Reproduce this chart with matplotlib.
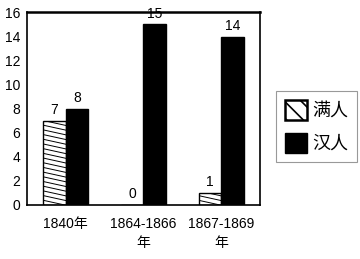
import numpy as np
import matplotlib
matplotlib.use("Agg")
import matplotlib.pyplot as plt
from matplotlib.patches import Patch

plt.rcParams['font.family'] = ['Liberation Sans', 'Noto Sans CJK SC', 'DejaVu Sans']
plt.rcParams['hatch.linewidth'] = 1.2

# data
periods = ["1840年", "1864-1866\n年", "1867-1869\n年"]
manchu = [7, 0, 1]
han = [8, 15, 14]
series_names = ["满人", "汉人"]

fig = plt.figure(figsize=(3.6, 2.59), dpi=100)
ax = fig.add_axes([0.075, 0.2085, 0.647, 0.7435])

x = np.arange(len(periods))
w = 0.29

bars_m = ax.bar(x - w / 2, manchu, w, color="white", edgecolor="black",
                linewidth=1.0, label=series_names[0])
bars_h = ax.bar(x + w / 2, han, w, color="black", edgecolor="black",
                linewidth=1.0, label=series_names[1])

# shallow hatch lines inside the manchu bars
for b in bars_m:
    x0, x1 = b.get_x(), b.get_x() + b.get_width()
    h = b.get_height()
    if h <= 0:
        continue
    drop = 0.41
    for yy in np.arange(-drop, h, 0.39):
        ln, = ax.plot([x0, x1], [yy + drop, yy], color="black", lw=0.7)
        ln.set_clip_path(b)

for i in range(len(periods)):
    ax.text(x[i] - w / 2, manchu[i] + 0.3, str(manchu[i]), ha="center",
            va="bottom", fontsize=10)
    ax.text(x[i] + w / 2, han[i] + 0.3, str(han[i]), ha="center",
            va="bottom", fontsize=10)

ax.set_xlim(-0.5, 2.5)
ax.set_ylim(0, 16)
ax.set_yticks(range(0, 17, 2))
ax.set_xticks(x)
ax.set_xticklabels(periods, fontsize=10, linespacing=1.45)
ax.tick_params(axis="both", length=0, labelsize=10)
ax.tick_params(axis="x", pad=9)
ax.tick_params(axis="y", pad=5)

for s in ["left", "right", "bottom"]:
    ax.spines[s].set_linewidth(1.2)
ax.spines["top"].set_linewidth(1.8)

handles = [Patch(facecolor="white", edgecolor="black", hatch="\\\\", linewidth=1.8),
           Patch(facecolor="black", edgecolor="black")]
leg = fig.legend(handles, series_names, loc="center left",
                 bbox_to_anchor=(0.767, 0.512), fontsize=13,
                 handlelength=1.22, handleheight=1.33, handletextpad=0.28,
                 labelspacing=0.7, borderpad=0.5, borderaxespad=0,
                 fancybox=False, edgecolor="#999999", framealpha=1)
leg.get_frame().set_linewidth(0.8)

fig.savefig("out.png", dpi=100)
